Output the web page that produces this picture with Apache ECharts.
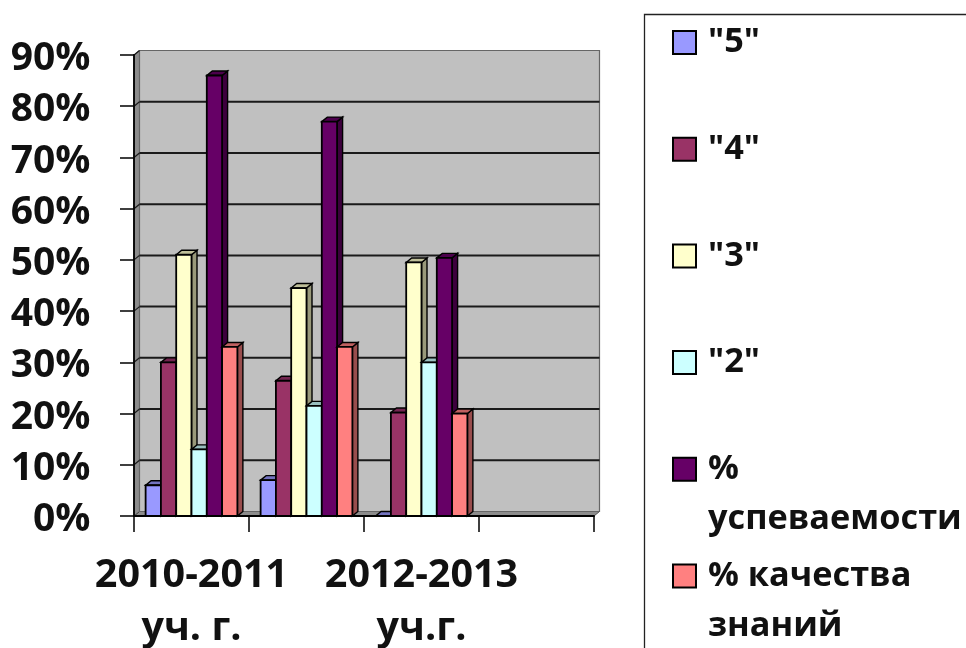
<!DOCTYPE html>
<html><head><meta charset="utf-8">
<style>html,body{margin:0;padding:0;background:#fff}#c{width:966px;height:648px}</style>
<script src="https://cdn.jsdelivr.net/npm/echarts@6/dist/echarts.min.js"></script>
</head><body><div id="c"></div>
<script>
const categories = ['2010-2011\nуч. г.', '', '2012-2013\nуч.г.', ''];
const yearBands = [0, 1, 2];
const valueTicks = [0, 10, 20, 30, 40, 50, 60, 70, 80, 90];
const seriesNames = ['"5"', '"4"', '"3"', '"2"', '% успеваемости', '% качества знаний'];
const legendLines = ['"5"', '"4"', '"3"', '"2"', '%\nуспеваемости', '% качества\nзнаний'];
const five = [6, 7, 0];
const four = [30, 26.4, 20.2];
const three = [51, 44.5, 49.5];
const two = [13, 21.5, 30];
const progress = [86, 77, 50.4];
const quality = [33, 33, 20];
const seriesValues = [five, four, three, two, progress, quality];
const colors = ['#9999FF', '#993366', '#FFFFCC', '#CCFFFF', '#660066', '#FF8080'];
const tops = ['#7373BF', '#732650', '#BFBF99', '#99BFBF', '#4C004C', '#BF6060'];
const sides = ['#5C5C99', '#5C1F3D', '#99997A', '#7A9999', '#3D003D', '#994D4D'];

const font = '"Open Sans"';
const dx = 5.5, dy = 4.5, barFrac = 0.133;
const chart = echarts.init(document.getElementById('c'));

function poly(points, fill, lw) {
  return {type: 'polygon', shape: {points}, style: {fill, stroke: '#000', lineWidth: lw}};
}
function wallItem(params, api) {
  const x0 = params.coordSys.x, x1 = x0 + params.coordSys.width;
  const yb = api.coord([0, 0])[1], yt = api.coord([0, 90])[1];
  const kids = [
    {type: 'polygon', shape: {points: [[x0, yb], [x0 + dx, yb - dy], [x1 + dx, yb - dy], [x1, yb]]}, style: {fill: '#8c8c8c', stroke: '#555', lineWidth: 1}},
    {type: 'polygon', shape: {points: [[x0, yt], [x0 + dx, yt - dy], [x0 + dx, yb - dy], [x0, yb]]}, style: {fill: '#8c8c8c', stroke: '#444', lineWidth: 1}},
    {type: 'rect', shape: {x: x0 + dx, y: yt - dy, width: params.coordSys.width, height: yb - yt}, style: {fill: '#C0C0C0', stroke: '#666', lineWidth: 1.2}}
  ];
  valueTicks.forEach(v => {
    if (v === 0) return;
    const y = api.coord([0, v])[1];
    if (v < 90) kids.push({type: 'line', shape: {x1: x0 + dx, y1: y - dy, x2: x1 + dx, y2: y - dy}, style: {stroke: '#1a1a1a', lineWidth: 2}});
    kids.push({type: 'line', shape: {x1: x0, y1: y, x2: x0 + dx, y2: y - dy}, style: {stroke: '#1a1a1a', lineWidth: 1.2}});
  });
  return {type: 'group', children: kids};
}
function barItem(i) {
  return function (params, api) {
    const band = api.size([1, 0])[0];
    const w = band * barFrac;
    const c = api.coord([api.value(0), api.value(1)]);
    const base = api.coord([api.value(0), 0])[1];
    const l = c[0] + (i - 3) * w, r = l + w, t = c[1];
    return {type: 'group', children: [
      poly([[r, t], [r + dx, t - dy], [r + dx, base - dy], [r, base]], sides[i], 1.4),
      poly([[l, t], [l + dx, t - dy], [r + dx, t - dy], [r, t]], tops[i], 1.4),
      {type: 'rect', shape: {x: l, y: t, width: w, height: base - t}, style: {fill: colors[i], stroke: '#000', lineWidth: 1.8}}
    ]};
  };
}
const option = {
  animation: false,
  backgroundColor: '#fff',
  textStyle: {fontFamily: font},
  grid: {left: 134, right: 372, top: 55, bottom: 132, outerBoundsMode: 'none'},
  xAxis: {
    type: 'category', data: categories, boundaryGap: true,
    axisLine: {lineStyle: {color: '#000', width: 1.8}},
    axisTick: {show: true, length: 16, interval: 0, lineStyle: {color: '#000', width: 1.5}},
    axisLabel: {interval: 0, margin: 33, color: '#111', fontSize: 39.5, fontWeight: 'bold', lineHeight: 53, fontFamily: font, hideOverlap: false, overflow: 'none'}
  },
  yAxis: {
    type: 'value', min: 0, max: 90, interval: 10,
    axisLine: {show: true, lineStyle: {color: '#000', width: 1.8}},
    axisTick: {show: true, length: 14, lineStyle: {color: '#000', width: 1.5}},
    axisLabel: {margin: 43.5, color: '#111', fontSize: 39, fontWeight: 'bold', fontFamily: font, verticalAlign: 'top', lineHeight: 8, showMinLabel: true, showMaxLabel: true, formatter: v => v + '%'},
    splitLine: {show: false}
  },
  legend: {
    orient: 'vertical', left: 672, top: -34, height: 900, padding: 0,
    icon: 'rect', itemWidth: 23, itemHeight: 23, itemGap: -46.3,
    selectedMode: false,
    itemStyle: {borderColor: '#000', borderWidth: 2},
    data: seriesNames,
    formatter: n => {
      const lines = legendLines[seriesNames.indexOf(n)].split('\n');
      return lines.length > 1 ? '\n' + lines.join('\n') : '\n' + lines[0] + '\n';
    },
    textStyle: {color: '#111', fontSize: 34.3, fontWeight: 'bold', lineHeight: 50, fontFamily: font, padding: [3, 0, 0, 7]}
  },
  graphic: [{type: 'rect', silent: true, z: -10, shape: {x: 644.5, y: 14.5, width: 340, height: 660}, style: {fill: '#fff', stroke: '#222', lineWidth: 1.3}}],
  series: [
    {type: 'custom', name: 'wall', z: -1, silent: true, clip: false, renderItem: wallItem, data: [[0, 0]]}
  ].concat(seriesNames.map((name, i) => ({
    type: 'custom', name, z: 2 + i, clip: false, renderItem: barItem(i),
    itemStyle: {color: colors[i]},
    encode: {x: 0, y: 1},
    data: yearBands.map(b => [b, seriesValues[i][b]])
  })))
};
chart.setOption(option);
</script></body></html>
